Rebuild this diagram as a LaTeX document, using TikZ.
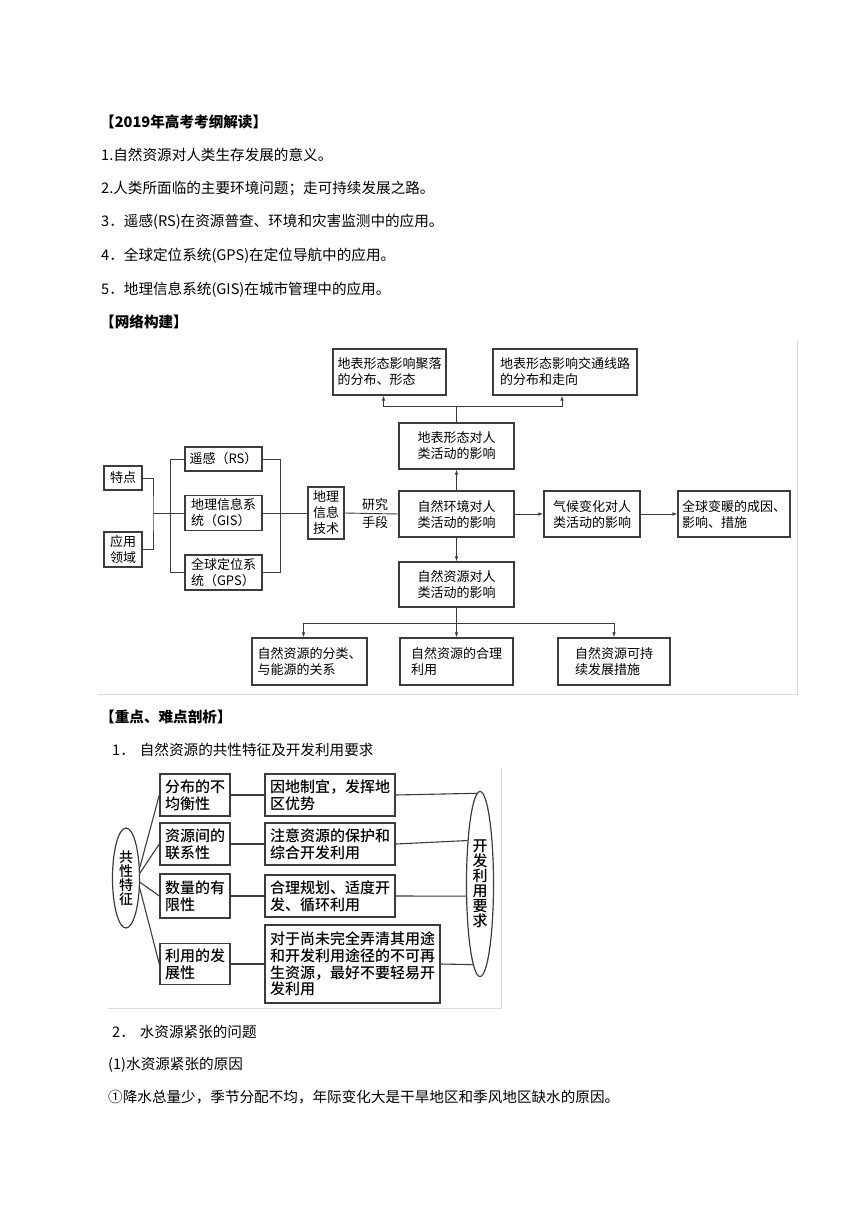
\documentclass[tikz,border=0pt]{standalone}
\usepackage{fontspec}
\setmainfont{Noto Sans CJK SC}
\newfontfamily\cjkmed{Noto Sans CJK SC Medium}
\usetikzlibrary{arrows.meta,shapes.geometric}
\definecolor{linegray}{HTML}{3C3C3C}
\definecolor{framegray}{HTML}{DCDCDC}

\begin{document}
\begin{tikzpicture}[
  x=1pt, y=-1pt, >={Latex[length=5pt,width=3.5pt]},
  every node/.style={inner sep=0pt},
  txt/.style={anchor=west, font=\fontsize{14.6}{17}\selectfont, text height=12.8pt, text depth=1.8pt},
  head/.style={txt, font=\fontsize{14.6}{17}\selectfont\bfseries},
  netbox/.style={draw=linegray, line width=1.1pt, align=left, font=\fontsize{13}{16}\selectfont},
  keybox/.style={draw=linegray, line width=1.4pt, align=left, font=\cjkmed\fontsize{15}{16.7}\selectfont},
  keyell/.style={ellipse, draw=linegray, line width=1.2pt, align=center},
  link/.style={draw=linegray, line width=0.9pt},
  keylink/.style={draw=linegray, line width=1.1pt}
]
  \fill[white] (0,0) rectangle (860,1216);
  \useasboundingbox (0,0) rectangle (860,1216);

  % syllabus text
  \node[head] (h1) at (100,122) {【2019年高考考纲解读】};
  \node[txt] (l1) at (101,155) {1.自然资源对人类生存发展的意义。};
  \node[txt] (l2) at (101,188) {2.人类所面临的主要环境问题；走可持续发展之路。};
  \node[txt] (l3) at (101,221) {3．遥感(RS)在资源普查、环境和灾害监测中的应用。};
  \node[txt] (l4) at (101,255) {4．全球定位系统(GPS)在定位导航中的应用。};
  \node[txt] (l5) at (101,289) {5．地理信息系统(GIS)在城市管理中的应用。};
  \node[head] (h2) at (100,322) {【网络构建】};

  % network: frame
  \draw[framegray, line width=1pt] (98,694) -- (797,694) -- (797,340);

  % network: boxes
  \node[netbox, minimum width=113pt, minimum height=46pt] (b1) at (389.5,372) {地表形态影响聚落\\的分布、形态};
  \node[netbox, minimum width=144pt, minimum height=46pt] (b2) at (565,372) {地表形态影响交通线路\\的分布和走向};
  \node[netbox, minimum width=115pt, minimum height=46pt] (b3) at (456.5,446) {地表形态对人\\类活动的影响};
  \node[netbox, minimum width=115pt, minimum height=46pt] (env) at (456.5,514) {自然环境对人\\类活动的影响};
  \node[netbox, minimum width=96pt, minimum height=46pt] (clim) at (592,514) {气候变化对人\\类活动的影响};
  \node[netbox, minimum width=112pt, minimum height=46pt] (glob) at (734,514) {全球变暖的成因、\\影响、措施};
  \node[netbox, minimum width=115pt, minimum height=45pt] (res) at (456.5,584.5) {自然资源对人\\类活动的影响};
  \node[netbox, minimum width=115pt, minimum height=47pt] (r1) at (309.5,661.5) {自然资源的分类、\\与能源的关系};
  \node[netbox, minimum width=113pt, minimum height=47pt] (r2) at (456.5,661.5) {自然资源的合理\\利用};
  \node[netbox, minimum width=112pt, minimum height=47pt] (r3) at (614,661.5) {自然资源可持\\续发展措施};
  \node[netbox, minimum width=38pt, minimum height=24pt] (td) at (123,478) {特点};
  \node[netbox, minimum width=38pt, minimum height=35pt] (yy) at (123,549.5) {应用\\领域};
  \node[netbox, minimum width=77pt, minimum height=24pt] (rs) at (223.5,459) {遥感（RS）};
  \node[netbox, minimum width=77pt, minimum height=35pt] (gis) at (223.5,513) {地理信息系\\统（GIS）};
  \node[netbox, minimum width=77pt, minimum height=35pt] (gps) at (223.5,572.5) {全球定位系\\统（GPS）};
  \node[netbox, minimum width=36pt, minimum height=52pt] (tech) at (326,513) {地理\\信息\\技术};
  \node[align=center, font=\fontsize{13}{18}\selectfont] (yj) at (375,514) {研究\\手段};

  % network: connectors
  \coordinate (jl) at (153,513);
  \draw[link] (td.east) -| (jl) |- (yy.east);
  \draw[link] (jl) -- (gis.west);
  \draw[link] (rs.west) -- ++(-14,0) |- (gps.west);
  \draw[link] (rs.east) -- ++(18,0) |- (gps.east);
  \draw[link] (gis.east) -- (tech.west);
  \draw[link] (tech.east) -- (env.west);
  \draw[link, ->] (env.north) -- (b3.south);
  \coordinate (jt) at (456.5,406);
  \draw[link] (b3.north) -- (jt);
  \draw[link, ->] (jt) -| ([xshift=-6pt]b1.south);
  \draw[link, ->] (jt) -| ([xshift=-3pt]b2.south);
  \draw[link, ->] (env.east) -- (clim.west);
  \draw[link, ->] (clim.east) -- (glob.west);
  \draw[link, ->] (env.south) -- (res.north);
  \coordinate (jb) at (456.5,623);
  \draw[link] (res.south) -- (jb);
  \draw[link, ->] (jb) -| ([xshift=-6pt]r1.north);
  \draw[link, ->] (jb) -- (r2.north);
  \draw[link, ->] (jb) -| (r3.north);

  % key points
  \node[head] (h3) at (100,717) {【重点、难点剖析】};
  \node[txt] (k1) at (112,750) {1．\hspace{5pt}自然资源的共性特征及开发利用要求};

  % common features: frame
  \draw[framegray, line width=1pt] (108,1008) -- (501,1008) -- (501,768);

  % common features: ellipses and boxes
  \node[keyell, minimum width=27pt, minimum height=100pt, font=\cjkmed\fontsize{14}{14}\selectfont] (el1) at (126,878) {共\\性\\特\\征};
  \node[keyell, minimum width=27pt, minimum height=185pt, font=\cjkmed\fontsize{15}{15}\selectfont] (el2) at (480,884) {开\\发\\利\\用\\要\\求};
  \node[keybox, minimum width=70pt, minimum height=42pt] (a1) at (195,795) {分布的不\\均衡性};
  \node[keybox, minimum width=70pt, minimum height=42pt] (a2) at (195,844) {资源间的\\联系性};
  \node[keybox, minimum width=70pt, minimum height=44pt] (a3) at (195,896) {数量的有\\限性};
  \node[keybox, minimum width=70pt, minimum height=41pt] (a4) at (195,964) {利用的发\\展性};
  \node[keybox, minimum width=130pt, minimum height=42pt] (m1) at (330,795) {因地制宜，发挥地\\区优势};
  \node[keybox, minimum width=130pt, minimum height=42pt] (m2) at (330,844) {注意资源的保护和\\综合开发利用};
  \node[keybox, minimum width=130pt, minimum height=42pt] (m3) at (330,896) {合理规划、适度开\\发、循环利用};
  \node[keybox, minimum width=175pt, minimum height=78pt] (m4) at (352.5,964) {对于尚未完全弄清其用途\\和开发利用途径的不可再\\生资源，最好不要轻易开\\发利用};

  % common features: connectors
  \draw[keylink] (el1.37) -- (a1.west);
  \draw[keylink] (el1.20) -- (a2.west);
  \draw[keylink] (el1.343) -- (a3.west);
  \draw[keylink] (el1.323) -- (a4.west);
  \draw[keylink] (a1.east) -- (m1.west);
  \draw[keylink] (a2.east) -- (m2.west);
  \draw[keylink] (a3.east) -- (m3.west);
  \draw[keylink] (a4.east) -- (m4.west);
  \draw[keylink] (m1.east) -- (el2.92.4);
  \draw[keylink] (m2.east) -- (el2.106.9);
  \draw[keylink] (m3.east) -- (el2.221.9);
  \draw[keylink] (m4.east) -- (el2.265.2);

  % water resources
  \node[txt] (k2) at (112,1032) {2．\hspace{5pt}水资源紧张的问题};
  \node[txt] (k3) at (108,1064) {(1)水资源紧张的原因};
  \node[txt] (k4) at (108,1097) {①降水总量少，季节分配不均，年际变化大是干旱地区和季风地区缺水的原因。};
\end{tikzpicture}
\end{document}
